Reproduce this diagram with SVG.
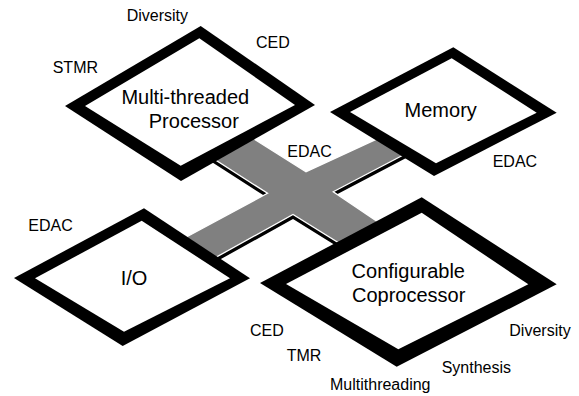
<svg xmlns="http://www.w3.org/2000/svg" width="579" height="396" viewBox="0 0 579 396">
  <style>
    .frame { fill: #000000; }
    .face { fill: #ffffff; }
    .bus-side { fill: #000000; }
    .bus-top { fill: #808080; stroke: #ffffff; stroke-width: 1.3; stroke-linejoin: miter; }
    .title { font-family: "Liberation Sans", Arial, sans-serif; font-size: 20px; fill: #000000; text-anchor: middle; }
    .tag { font-family: "Liberation Sans", Arial, sans-serif; font-size: 16px; fill: #000000; }
  </style>
  <defs>
    <!-- X-shaped bus joining the four blocks; ends tuck under the blocks -->
    <polygon id="bus-shape" points="191.5,144.5 231.3,124.7 306,171.7 400.5,128.2 426.6,142.8 333.3,191.7 399.8,236.8 362.2,257.5 293,214.5 193.8,269.6 163.6,249.2 267.5,193.3"/>
  </defs>

  <rect width="579" height="396" fill="#ffffff"/>

  <g id="connectors">
    <!-- extruded side of the bus, offset straight down -->
    <use href="#bus-shape" class="bus-side" transform="translate(0,4.5)"/>
    <!-- top face of the bus -->
    <use href="#bus-shape" class="bus-top"/>
    <text class="tag" x="287.3" y="156.7">EDAC</text>
  </g>

  <g id="processor">
    <polygon class="frame" points="65,106 200.7,26 315,105 181,181"/>
    <polygon class="face" points="85,106 199.3,38.3 295,105 180.7,165.7"/>
    <text class="title" x="185.3" y="104">Multi-threaded</text>
    <text class="title" x="193.8" y="128.3">Processor</text>
    <text class="tag" x="126.7" y="20.7">Diversity</text>
    <text class="tag" x="256" y="48.3">CED</text>
    <text class="tag" x="52.7" y="73.3">STMR</text>
  </g>

  <g id="memory">
    <polygon class="frame" points="330,112 453.3,47.3 556.7,112.7 434,176"/>
    <polygon class="face" points="350,112 451.7,58.3 536.7,112.7 436,163.3"/>
    <text class="title" x="440.7" y="116.7">Memory</text>
    <text class="tag" x="492.7" y="167.3">EDAC</text>
  </g>

  <g id="io">
    <polygon class="frame" points="14,278 144,208.3 250,278.3 122.7,346"/>
    <polygon class="face" points="35,278.3 141.7,220.7 230,278.3 124,331.7"/>
    <text class="title" x="134" y="285">I/O</text>
    <text class="tag" x="28.3" y="231">EDAC</text>
  </g>

  <g id="coprocessor">
    <polygon class="frame" points="260,283 421.7,197.3 556.7,284.3 396.7,366.7"/>
    <polygon class="face" points="286,284 421.7,212.7 528.3,284.3 398.3,349.3"/>
    <text class="title" x="408.3" y="277.5">Configurable</text>
    <text class="title" x="408.7" y="301.5">Coprocessor</text>
    <text class="tag" x="250" y="335.7">CED</text>
    <text class="tag" x="286.7" y="360.7">TMR</text>
    <text class="tag" x="330" y="390">Multithreading</text>
    <text class="tag" x="441.7" y="372.7">Synthesis</text>
    <text class="tag" x="509.3" y="336">Diversity</text>
  </g>
</svg>
